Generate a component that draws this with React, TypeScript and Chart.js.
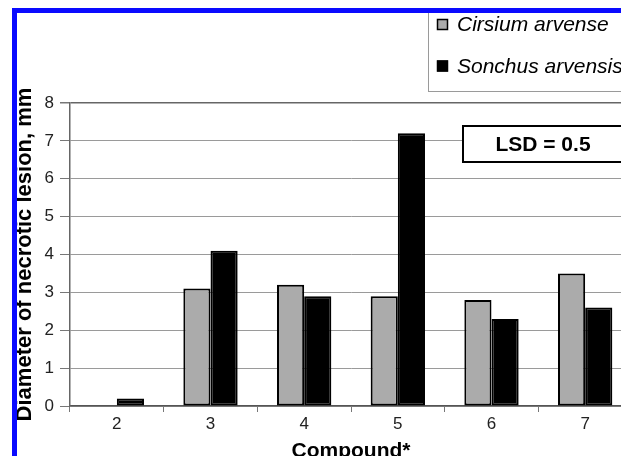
import React, { useEffect, useRef } from 'react';
import { Chart, registerables } from 'chart.js';

Chart.register(...registerables);

const compounds = ['2', '3', '4', '5', '6', '7'];
const cirsium = [0, 3.1, 3.2, 2.9, 2.8, 3.5];
const sonchus = [0.2, 4.1, 2.9, 7.2, 2.3, 2.6];
const seriesNames = ['Cirsium arvense', 'Sonchus arvensis'];
const seriesColors = ['#ababab', '#000000'];
const yMin = 0;
const yMax = 8;
const yStep = 1;
const lsdLabel = 'LSD = 0.5';
const xTitle = 'Compound*';
const yTitle = 'Diameter of necrotic lesion, mm';

const FONT = '"Liberation Sans", Arial, Helvetica, sans-serif';

const annotationPlugin = {
  id: 'annotations',
  afterDraw(chart: any) {
    const ctx = chart.ctx as CanvasRenderingContext2D;
    const area = chart.chartArea;
    ctx.save();
    // Legend box (top right, cropped by the frame)
    const lx = area.right - 204;
    ctx.fillStyle = '#ffffff';
    ctx.fillRect(lx, -10, 320, 93);
    ctx.strokeStyle = '#9a9a9a';
    ctx.lineWidth = 1;
    ctx.strokeRect(lx + 0.5, -10, 320, 93.5);
    ctx.font = `italic 21px ${FONT}`;
    ctx.textBaseline = 'middle';
    ctx.textAlign = 'left';
    const rows = [16.5, 58];
    seriesNames.forEach((name, i) => {
      const y = rows[i];
      ctx.fillStyle = seriesColors[i];
      ctx.fillRect(lx + 9, y - 5.5, 11, 11);
      ctx.strokeStyle = '#000';
      ctx.lineWidth = 1.5;
      ctx.strokeRect(lx + 9.5, y - 5, 10, 10);
      ctx.fillStyle = '#000';
      ctx.fillText(name, lx + 29, y + 1);
    });
    // LSD box
    const bx = area.right - 169;
    const by = area.top + 23;
    ctx.fillStyle = '#ffffff';
    ctx.fillRect(bx, by, 162, 36);
    ctx.strokeStyle = '#000';
    ctx.lineWidth = 2;
    ctx.strokeRect(bx, by, 162, 36);
    ctx.font = `bold 21px ${FONT}`;
    ctx.fillStyle = '#000';
    ctx.textAlign = 'center';
    ctx.fillText(lsdLabel, bx + 80, by + 19);
    ctx.restore();
  },
};

export default function App() {
  const ref = useRef<HTMLCanvasElement | null>(null);

  useEffect(() => {
    if (!ref.current) return;
    const chart = new Chart(ref.current, {
      type: 'bar',
      data: {
        labels: compounds,
        datasets: [
          {
            label: seriesNames[0],
            data: cirsium,
            backgroundColor: seriesColors[0],
            borderColor: '#000',
            borderWidth: 2,
            borderSkipped: false,
            barPercentage: 1,
            categoryPercentage: 0.58,
          },
          {
            label: seriesNames[1],
            data: sonchus,
            backgroundColor: seriesColors[1],
            borderColor: '#000',
            borderWidth: 2,
            borderSkipped: false,
            barPercentage: 1,
            categoryPercentage: 0.58,
          },
        ],
      },
      options: {
        responsive: false,
        animation: false,
        layout: { padding: { left: 0, top: 95, right: 20, bottom: 0 } },
        plugins: {
          legend: { display: false },
          tooltip: { enabled: false },
          title: { display: false },
        },
        scales: {
          x: {
            afterFit: (s: any) => {
              s.height = 72;
            },
            grid: {
              offset: true,
              drawOnChartArea: false,
              drawTicks: true,
              tickLength: 6,
              tickColor: '#777',
            },
            border: { display: true, color: '#555', width: 1.5 },
            ticks: {
              padding: 2,
              color: '#222',
              font: { family: FONT, size: 17 },
            },
            title: {
              display: true,
              text: xTitle,
              color: '#000',
              font: { family: FONT, size: 21, weight: 'bold' },
              padding: { top: 0, bottom: 14 },
            },
          },
          y: {
            min: yMin,
            max: yMax,
            afterFit: (s: any) => {
              s.width = 58;
            },
            ticks: {
              stepSize: yStep,
              padding: 6,
              color: '#222',
              font: { family: FONT, size: 17 },
            },
            grid: {
              color: (c: any) => (c.tick && c.tick.value === yMax ? '#666' : '#9a9a9a'),
              lineWidth: (c: any) => (c.tick && c.tick.value === yMax ? 1.5 : 1),
              drawTicks: true,
              tickLength: 10,
              tickColor: '#777',
            },
            border: { display: true, color: '#666', width: 1.5 },
            title: {
              display: true,
              text: yTitle,
              color: '#000',
              font: { family: FONT, size: 22, weight: 'bold' },
              padding: { top: 0, bottom: 0 },
            },
          },
        },
      },
      plugins: [annotationPlugin],
    } as any);
    return () => chart.destroy();
  }, []);

  return (
    <div
      style={{
        position: 'fixed',
        left: 0,
        top: 0,
        width: 621,
        height: 456,
        overflow: 'hidden',
        background: '#ffffff',
      }}
    >
      <canvas
        ref={ref}
        width={640}
        height={470}
        style={{ position: 'absolute', left: 12, top: 8, width: 640, height: 470 }}
      />
      <div
        style={{
          position: 'absolute',
          left: 12,
          top: 8,
          width: 700,
          height: 600,
          borderLeft: '5px solid #0a0aff',
          borderTop: '5px solid #0a0aff',
          boxSizing: 'border-box',
          pointerEvents: 'none',
        }}
      />
    </div>
  );
}
